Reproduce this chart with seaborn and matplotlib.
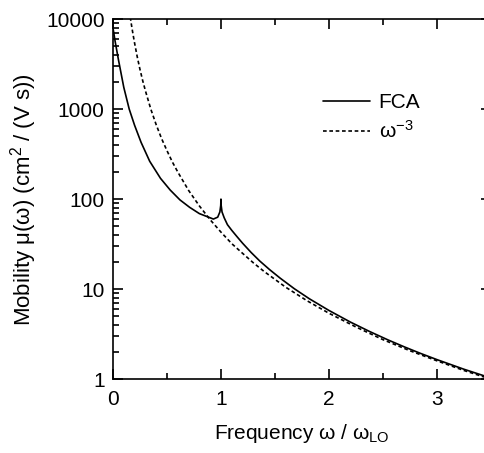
import numpy as np
import pandas as pd
import matplotlib
matplotlib.use("Agg")
import matplotlib.pyplot as plt
import matplotlib.ticker as mticker
import seaborn as sns

# FCA curve
fca_w = [0.0, 0.02, 0.05, 0.10, 0.15, 0.20, 0.26, 0.34, 0.44, 0.53, 0.62, 0.71,
         0.80, 0.90, 0.93, 0.97, 0.99, 0.998, 1.0, 1.002, 1.01, 1.03, 1.06, 1.10,
         1.15, 1.20, 1.28, 1.36, 1.45, 1.55, 1.68, 1.82, 2.0, 2.2, 2.38, 2.55,
         2.7, 2.85, 3.0, 3.25, 3.5]
fca_mu = [7940, 5620, 3550, 1740, 1000, 660, 427, 263, 170, 126, 98, 81,
          69, 62, 60, 63, 72, 85, 100, 85, 72, 62, 52, 45,
          38.1, 32.4, 25.5, 20.5, 16.5, 13.2, 10.1, 7.8, 5.8, 4.3, 3.37, 2.72,
          2.28, 1.93, 1.65, 1.29, 1.03]

# omega^-3 reference curve
pow_w = [0.16, 0.17, 0.18, 0.19, 0.20, 0.225, 0.25, 0.275, 0.30, 0.35, 0.40, 0.45,
         0.50, 0.55, 0.60, 0.70, 0.80, 0.90, 1.0, 1.1, 1.2, 1.3, 1.4, 1.6,
         1.8, 2.0, 2.25, 2.5, 2.75, 3.0, 3.25, 3.5]
pow_mu = [10500, 8750, 7400, 6300, 5400, 3780, 2750, 2070, 1600, 1000, 670, 470,
          345, 258, 200, 125, 84, 59, 43, 32, 25, 19.6, 15.7, 10.5,
          7.4, 5.4, 3.8, 2.75, 2.07, 1.6, 1.25, 1.0]

y_ticks = [1, 10, 100, 1000, 10000]

sns.set_style("ticks")
plt.rcParams["font.family"] = ["Liberation Sans", "DejaVu Sans"]
plt.rcParams["mathtext.fontset"] = "custom"
plt.rcParams["mathtext.rm"] = "Liberation Sans"
plt.rcParams["mathtext.it"] = "Liberation Sans"
plt.rcParams["axes.linewidth"] = 1.2
for key in ["text.color", "axes.labelcolor", "axes.edgecolor",
            "xtick.color", "ytick.color"]:
    plt.rcParams[key] = "black"

fca_df = pd.DataFrame({"w": fca_w, "mu": fca_mu})
pow_df = pd.DataFrame({"w": pow_w, "mu": pow_mu})

fig = plt.figure(figsize=(4.85, 4.53), dpi=100)
ax = fig.add_axes([0.233, 0.163, 0.779, 0.795])

sns.lineplot(data=fca_df, x="w", y="mu", ax=ax, color="black", lw=1.2,
             label="FCA")
sns.lineplot(data=pow_df, x="w", y="mu", ax=ax, color="black", lw=1.2,
             label=r"ω$^{-3}$")
ax.lines[1].set_dashes([2.2, 1.6])

ax.set_yscale("log")
ax.set_xlim(0, 3.5)
ax.set_ylim(1, 10000)
ax.set_yticks(y_ticks)
ax.yaxis.set_major_formatter(mticker.FuncFormatter(lambda v, p: f"{v:g}"))
ax.yaxis.set_minor_locator(mticker.LogLocator(base=10, subs=np.arange(2, 10)))
ax.yaxis.set_minor_formatter(mticker.NullFormatter())
ax.set_xticks([0, 1, 2, 3])
ax.xaxis.set_minor_locator(mticker.MultipleLocator(0.5))

ax.tick_params(which="both", direction="in", top=True, right=True,
               labelsize=15, width=1.2)
ax.tick_params(which="major", length=7)
ax.tick_params(which="minor", length=4)
ax.tick_params(axis="x", pad=8)
ax.tick_params(axis="y", pad=6)

ax.set_xlabel(r"Frequency ω / ω$_{\mathrm{LO}}$", fontsize=15, labelpad=9)
ax.set_ylabel(r"Mobility μ(ω) (cm$^2$ / (V s))", fontsize=16, labelpad=5)

leg = ax.legend(loc="upper left", bbox_to_anchor=(0.535, 0.818), frameon=False,
                fontsize=15, handlelength=2.25, handletextpad=0.4,
                labelspacing=0.4, borderaxespad=0)
leg.get_lines()[1].set_dashes([2.2, 1.6])

fig.savefig("out.png", dpi=100)
